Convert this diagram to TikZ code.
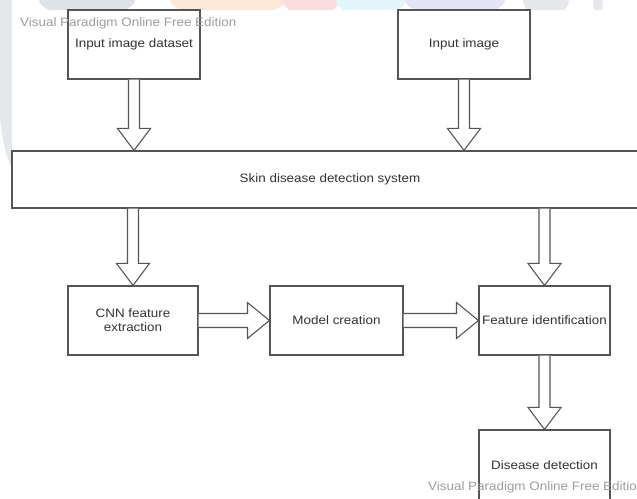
\documentclass[tikz,border=0pt]{standalone}
\usepackage{fontspec}
\setmainfont{Liberation Sans}[FakeStretch=1.1]
\usetikzlibrary{calc}
\definecolor{lncol}{HTML}{555555}
\definecolor{txcol}{HTML}{333333}
\definecolor{wmcol}{HTML}{9C9C9C}
\tikzset{
  box/.style={draw=lncol, line width=1.1pt, fill=white, text=txcol, align=center,
    font=\fontsize{12.2}{14}\selectfont, inner sep=2pt},
  wmark/.style={text=wmcol, font=\fontsize{12.2}{14}\selectfont, inner sep=0pt, anchor=west},
  barrow/.style={draw=lncol, line width=1.1pt, fill=white, line join=miter},
  blob/.style={draw=none}
}
\newcommand\vblk[2]{%
  \path[barrow] let \p1=(#1), \p2=(#2) in
    (\x1-5.5pt,\y1) -- (\x1-5.5pt,\y2+22pt) -- (\x1-16.5pt,\y2+22pt) -- (\x1,\y2)
    -- (\x1+16.5pt,\y2+22pt) -- (\x1+5.5pt,\y2+22pt) -- (\x1+5.5pt,\y1);}
\newcommand\hblk[2]{%
  \path[barrow] let \p1=(#1), \p2=(#2) in
    (\x1,\y1+7pt) -- (\x2-22pt,\y1+7pt) -- (\x2-22pt,\y1+18pt) -- (\x2,\y1)
    -- (\x2-22pt,\y1-18pt) -- (\x2-22pt,\y1-7pt) -- (\x1,\y1-7pt);}
\begin{document}
\begin{tikzpicture}[x=1pt,y=1pt]
\useasboundingbox (0,0) rectangle (637,498);
\fill[white] (0,0) rectangle (637,498);
% faint page decorations at the top and left edge
\begin{scope}
\clip (0,488) rectangle (637,498);
\fill[blob, fill={rgb,255:red,222;green,227;blue,232}] (87,498) ellipse (48 and 16);
\fill[blob, fill={rgb,255:red,253;green,231;blue,214}] (228,498) ellipse (58 and 16);
\fill[blob, fill={rgb,255:red,251;green,220;blue,222}] (311,498) ellipse (28 and 16);
\fill[blob, fill={rgb,255:red,225;green,245;blue,250}] (371,498) ellipse (35 and 16);
\fill[blob, fill={rgb,255:red,228;green,228;blue,244}] (455,498) ellipse (50 and 16);
\fill[blob, fill={rgb,255:red,230;green,231;blue,235}] (546,498) ellipse (23 and 16);
\fill[blob, fill={rgb,255:red,232;green,232;blue,236}] (598,498) ellipse (5 and 16);
\end{scope}
\fill[blob, fill={rgb,255:red,228;green,232;blue,237}] (0,498) -- (12,498) -- (12,330) .. controls (6,340) and (2,360) .. (0,380) -- cycle;

% nodes
\node[box, minimum width=132pt, minimum height=69pt] (in1) at (134,453.5) {Input image dataset};
\node[box, minimum width=132pt, minimum height=69pt] (in2) at (464,453.5) {Input image};
\node[box, minimum width=636pt, minimum height=57pt] (sys) at (330,318.5) {Skin disease detection system};
\node[box, minimum width=130pt, minimum height=69pt] (cnn) at (133,177.5) {CNN feature\\extraction};
\node[box, minimum width=133pt, minimum height=69pt] (model) at (336.5,177.5) {Model creation};
\node[box, minimum width=131pt, minimum height=69pt, inner sep=0pt] (feat) at (544.5,177.5) {Feature identification};
\node[box, minimum width=131pt, minimum height=70pt] (dis) at (544.5,33) {Disease detection};

% anchor points for block arrows
\coordinate (t1) at (sys.north -| in1.south);
\coordinate (t2) at (sys.north -| in2.south);
\coordinate (s1) at (sys.south -| cnn.north);
\coordinate (s2) at (sys.south -| feat.north);

% block arrows
\vblk{in1.south}{t1}
\vblk{in2.south}{t2}
\vblk{s1}{cnn.north}
\vblk{s2}{feat.north}
\vblk{feat.south}{dis.north}
\hblk{cnn.east}{model.west}
\hblk{model.east}{feat.west}

% watermarks
\node[wmark] (wm1) at (20,475) {Visual Paradigm Online Free Edition};
\node[wmark] (wm2) at (428,11) {Visual Paradigm Online Free Edition};
\end{tikzpicture}
\end{document}
